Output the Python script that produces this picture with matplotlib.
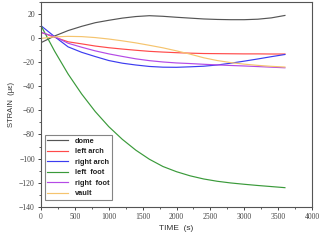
import matplotlib
matplotlib.use("Agg")
import matplotlib.pyplot as plt
from matplotlib.ticker import MultipleLocator

time_s = [0, 200, 400, 600, 800, 1000, 1200, 1400, 1600, 1800, 2000, 2200,
          2400, 2600, 2800, 3000, 3200, 3400, 3600]

dome = [-4, 1.5, 6, 9.5, 12.5, 14.5, 16.3, 17.6, 18.3, 17.8, 17, 16.3,
        15.6, 15.2, 15, 15, 15.4, 16.5, 18.5]
left_arch = [4.5, 0.5, -3.3, -5, -6.8, -8.2, -9.3, -10.3, -11.2, -11.8, -12.3, -12.7,
             -13, -13.1, -13.2, -13.3, -13.3, -13.4, -13.4]
right_arch = [10, 1, -7.5, -12, -15.5, -18.8, -21, -22.5, -23.7, -24.3, -24.4, -24,
              -23.5, -22.5, -21, -19.3, -17.5, -15.6, -13.8]
left_foot = [10, -11, -30, -46.5, -61, -73.5, -84, -93, -100.5, -106.5, -110.8, -114.2,
             -116.8, -118.7, -120.1, -121.2, -122.2, -123.1, -124]
right_foot = [4.5, 1, -4.5, -7.8, -10.8, -13.3, -15.4, -17.4, -18.9, -20, -20.8, -21.3,
              -21.9, -22.4, -22.9, -23.3, -23.8, -24.3, -24.8]
vault = [-0.5, 0.8, 1.2, 1, 0.2, -1, -2.5, -4.2, -6.2, -8.3, -10.8, -13.5,
         -16.5, -18.8, -20.5, -21.8, -22.8, -23.6, -24.2]

series = [
    ("dome", dome, "#555555"),
    ("left arch", left_arch, "#ff4a4a"),
    ("right arch", right_arch, "#3c3cf0"),
    ("left  foot", left_foot, "#3a9a3a"),
    ("right  foot", right_foot, "#b44ae6"),
    ("vault", vault, "#f5c46e"),
]

fig = plt.figure(figsize=(3.23, 2.40), dpi=100)
ax = fig.add_axes([0.127, 0.1375, 0.839, 0.856])

for name, vals, col in series:
    ax.plot(time_s, vals, color=col, lw=0.85, label=name)

ax.set_xlim(0, 4000)
ax.set_ylim(-140, 30)
ax.xaxis.set_major_locator(MultipleLocator(500))
ax.xaxis.set_minor_locator(MultipleLocator(250))
ax.yaxis.set_major_locator(MultipleLocator(20))
ax.yaxis.set_minor_locator(MultipleLocator(10))

for sp in ax.spines.values():
    sp.set_color("#555555")
    sp.set_linewidth(0.8)

ax.tick_params(which="major", direction="out", length=2.5, width=0.7,
               colors="#444444", labelsize=5.5, pad=2)
ax.tick_params(which="minor", direction="out", length=1.5, width=0.6, colors="#444444")
for lab in ax.get_xticklabels() + ax.get_yticklabels():
    lab.set_family("Liberation Serif")
    lab.set_color("#444444")

ax.set_xlabel("TIME  (s)", fontsize=6, color="#333333", labelpad=3,
              family="Liberation Sans")
ax.set_ylabel("STRAIN  (\u03bc\u03b5)", fontsize=5.5, color="#333333", labelpad=3,
              family="Liberation Sans")

leg = ax.legend(loc="lower left", bbox_to_anchor=(0.014, 0.035),
                frameon=True, fancybox=False, handlelength=2.8, handletextpad=0.9,
                borderpad=0.35, labelspacing=0.45, borderaxespad=0.0,
                prop={"family": "Liberation Sans", "weight": "bold", "size": 5.3})
leg.get_frame().set_edgecolor("#666666")
leg.get_frame().set_linewidth(0.8)
for t in leg.get_texts():
    t.set_color("#222222")

fig.savefig("out.png", dpi=100)
